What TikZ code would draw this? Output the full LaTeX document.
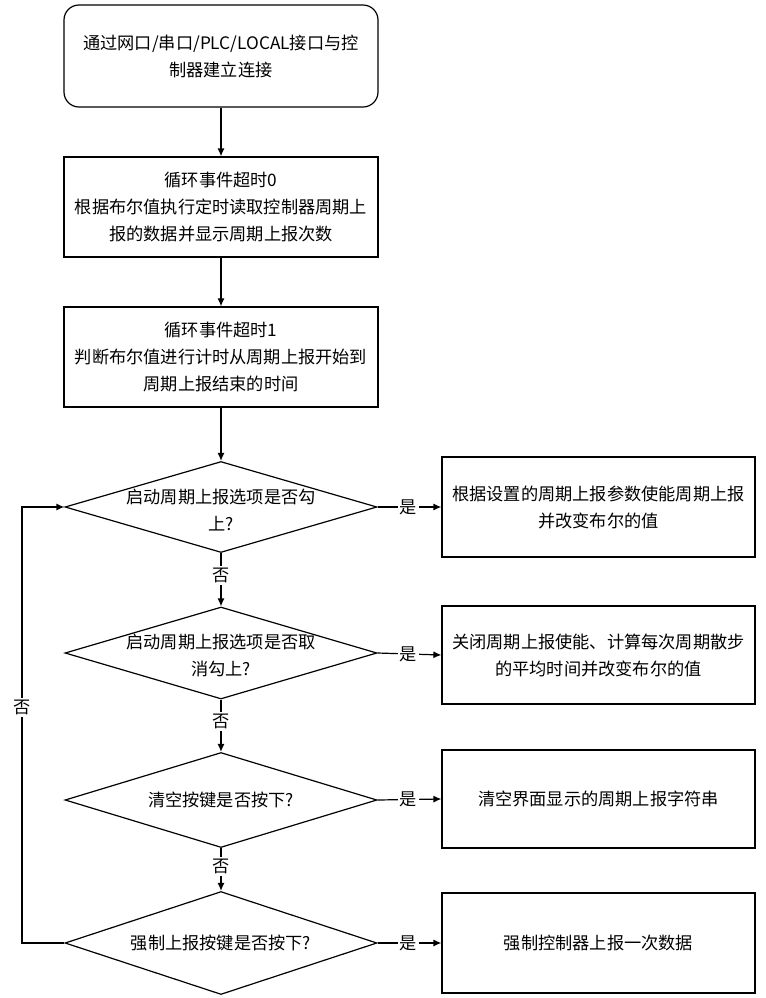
\documentclass[tikz,border=0pt]{standalone}
\usepackage{fontspec}
\setmainfont{Noto Sans CJK SC}
\usepackage{tikz}
\usetikzlibrary{arrows.meta}
\usetikzlibrary{shapes.geometric}

\begin{document}
\begin{tikzpicture}[x=0.5pt, y=-0.5pt, line width=0.6pt,
    font=\fontsize{8.6pt}{13.5pt}\selectfont,
    box/.style={draw, minimum width=157pt, minimum height=50pt, align=center, inner sep=0pt},
    decision/.style={draw, diamond, minimum width=156pt, inner sep=0pt},
    arrow/.style={-{Latex[length=4pt,width=3.5pt]}},
    tag/.style={fill=white, inner sep=1pt}]
  \useasboundingbox (0,0) rectangle (766,998);

  \node [box, rounded corners=7.5pt, minimum height=51pt] (connect) at (221,56) {通过网口/串口/PLC/LOCAL接口与控\\制器建立连接};
  \node [box] (readdata) at (221,207) {循环事件超时0\\根据布尔值执行定时读取控制器周期上\\报的数据并显示周期上报次数};
  \node [box] (timing) at (221,357) {循环事件超时1\\判断布尔值进行计时从周期上报开始到\\周期上报结束的时间};

  \node [decision, minimum height=45.5pt, label={[align=center, yshift=-1.5pt]center:启动周期上报选项是否勾\\上?}] (askon) at (221,507) {};
  \node [decision, minimum height=46pt, label={[align=center, yshift=-1pt]center:启动周期上报选项是否取\\消勾上?}] (askoff) at (221,653) {};
  \node [decision, minimum height=47.5pt, label={center:清空按键是否按下?}] (askclear) at (221,800) {};
  \node [decision, minimum height=51.5pt, label={center:强制上报按键是否按下?}] (askforce) at (221,943) {};

  \node [box, minimum width=156.5pt] (enable) at (598.5,507) {根据设置的周期上报参数使能周期上报\\并改变布尔的值};
  \node [box, minimum width=156.5pt, minimum height=49pt] (disable) at (598.5,655) {关闭周期上报使能、计算每次周期散步\\的平均时间并改变布尔的值};
  \node [box, minimum width=156.5pt, minimum height=49pt] (clear) at (598.5,799) {清空界面显示的周期上报字符串};
  \node [box, minimum width=156.5pt] (force) at (598.5,943) {强制控制器上报一次数据};

  \draw [arrow] (connect.south) -- (readdata.north);
  \draw [arrow] (readdata.south) -- (timing.north);
  \draw [arrow] (timing.south) -- (askon.north);

  \draw [arrow] (askon.south) -- node [tag, pos=0.42] {否} (askoff.north);
  \draw [arrow] (askoff.south) -- node [tag, pos=0.42] {否} (askclear.north);
  \draw [arrow] (askclear.south) -- node [tag, pos=0.42] {否} (askforce.north);

  \draw [arrow] (askon.east) -- node [tag, pos=0.48] {是} (enable.west);
  \draw [arrow] (askoff.east) -- node [tag, pos=0.48] {是} (disable.west);
  \draw [arrow] (askclear.east) -- node [tag, pos=0.48] {是} (clear.west);
  \draw [arrow] (askforce.east) -- node [tag, pos=0.48] {是} (force.west);

  \coordinate (back) at (22,943);
  \draw [arrow] (askforce.west) -- (back) |- node [tag, pos=0.27] {否} (askon.west);
\end{tikzpicture}
\end{document}
